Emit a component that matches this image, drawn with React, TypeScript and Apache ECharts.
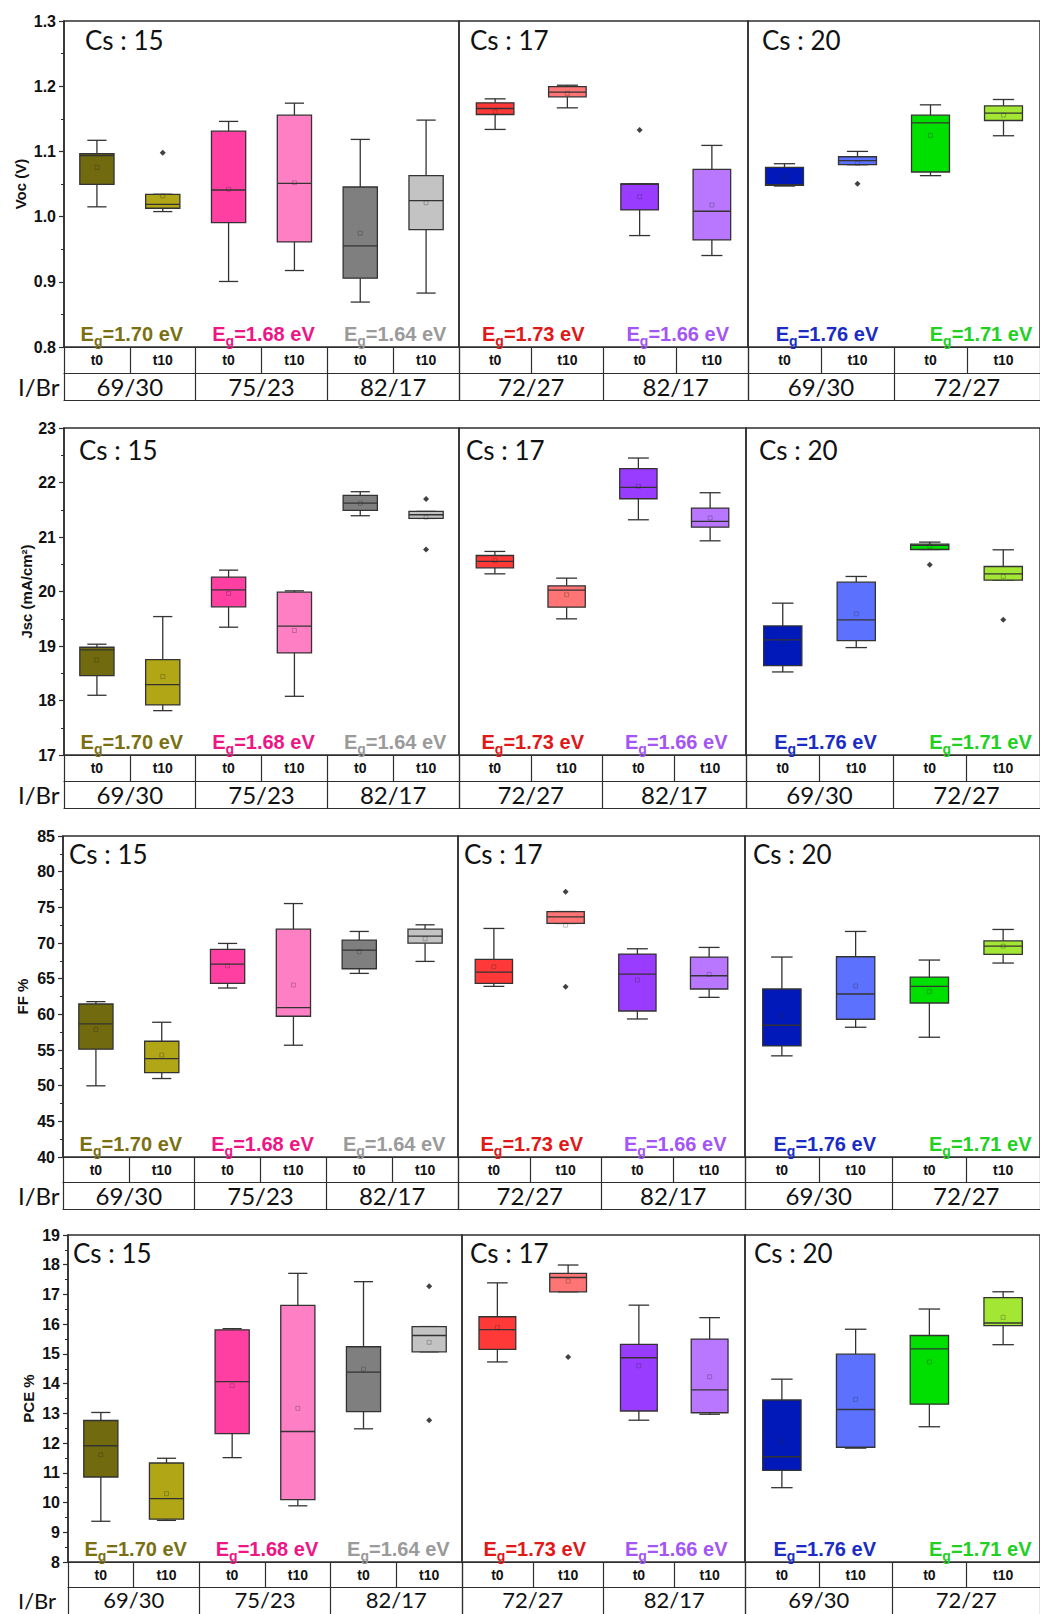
import React, { useEffect, useRef } from 'react';
import * as echarts from 'echarts';

// ---------- DATA ----------
const SECTION_CATEGORIES = [
  ['t0', 't10', 't0', 't10', 't0', 't10'],
  ['t0', 't10', 't0', 't10'],
  ['t0', 't10', 't0', 't10'],
];
const SECTION_SIZES = [6, 4, 4];
const IBR_LABELS = [['69/30', '75/23', '82/17'], ['72/27', '82/17'], ['69/30', '72/27']];
const CS_LABELS = ['Cs : 15', 'Cs : 17', 'Cs : 20'];
const EG_VALUES = ['1.70', '1.68', '1.64', '1.73', '1.66', '1.76', '1.71'];
const EG_COLORS = ['#7a7012', '#ee1585', '#9a9a9a', '#e01818', '#a455f5', '#1a2cc4', '#22d022'];
const BOX_COLORS = [
  '#716a0e', '#b0a616', '#ff40a2', '#ff7fc4', '#7f7f7f', '#c3c3c3', '#ff3838',
  '#ff7474', '#9a3cff', '#b977ff', '#0219b9', '#5c72ff', '#00e000', '#a4e634',
];

// box stats: [min, Q1, median, Q3, max]
const VOC_BOX = [
  [1.015, 1.0495, 1.0934, 1.0964, 1.117],
  [1.0077, 1.0128, 1.0189, 1.0342, 1.0342],
  [0.9005, 0.9908, 1.0408, 1.131, 1.146],
  [0.9173, 0.9612, 1.051, 1.1556, 1.174],
  [0.8689, 0.9056, 0.9551, 1.0454, 1.1184],
  [0.8827, 0.9801, 1.0245, 1.0628, 1.148],
  [1.1337, 1.1566, 1.1658, 1.1745, 1.1806],
  [1.1668, 1.1837, 1.1908, 1.1995, 1.2015],
  [0.9709, 1.0102, 1.05, 1.05, 1.05],
  [0.9403, 0.9643, 1.0082, 1.0724, 1.1092],
  [1.0469, 1.048, 1.049, 1.0755, 1.0811],
  [1.0796, 1.0796, 1.0857, 1.0918, 1.1],
  [1.0628, 1.0684, 1.1439, 1.1556, 1.1714],
  [1.124, 1.1474, 1.1587, 1.1699, 1.1796],
];
const VOC_MEAN = [1.0755, 1.0316, 1.042, 1.052, 0.9745, 1.0214, 1.1607, 1.189, 1.0306, 1.0179, 1.0597, 1.0816, 1.1245, 1.1556];
const VOC_OUTLIERS = [[1, 1.098], [8, 1.133], [11, 1.0505]];

const JSC_BOX = [
  [18.096, 18.457, 18.93, 18.977, 19.033],
  [17.814, 17.918, 18.292, 18.75, 19.54],
  [19.345, 19.718, 20.03, 20.263, 20.392],
  [18.077, 18.873, 19.363, 19.988, 20.012],
  [21.39, 21.488, 21.622, 21.763, 21.831],
  [21.341, 21.341, 21.408, 21.469, 21.469],
  [20.324, 20.435, 20.551, 20.661, 20.735],
  [19.498, 19.712, 20.024, 20.104, 20.245],
  [21.316, 21.702, 21.91, 22.253, 22.449],
  [20.93, 21.18, 21.286, 21.53, 21.812],
  [18.524, 18.641, 19.112, 19.369, 19.786],
  [18.971, 19.1, 19.48, 20.171, 20.276],
  [20.771, 20.771, 20.845, 20.869, 20.906],
  [20.208, 20.208, 20.324, 20.459, 20.765],
];
const JSC_MEAN = [18.74, 18.44, 19.963, 19.284, 21.62, 21.365, 20.57, 19.94, 21.93, 21.35, 19.09, 19.59, 20.83, 20.275];
const JSC_OUTLIERS = [[5, 21.696], [5, 20.771], [12, 20.49], [13, 19.48]];

const FF_BOX = [
  [49.98, 55.11, 58.65, 61.45, 61.78],
  [51.0, 51.84, 53.8, 56.23, 58.89],
  [63.69, 64.34, 67.05, 69.1, 69.94],
  [55.67, 59.73, 60.94, 71.94, 75.53],
  [65.74, 66.39, 69.0, 70.4, 71.62],
  [67.42, 69.98, 70.96, 71.94, 72.55],
  [63.92, 64.34, 65.93, 67.7, 72.04],
  [72.74, 72.74, 73.67, 74.41, 74.41],
  [59.35, 60.47, 65.65, 68.45, 69.19],
  [62.38, 63.55, 65.41, 68.03, 69.38],
  [54.18, 55.57, 58.47, 63.55, 68.03],
  [58.19, 59.31, 62.85, 68.07, 71.62],
  [56.79, 61.59, 63.92, 65.23, 67.61],
  [67.19, 68.4, 69.56, 70.31, 71.9],
];
const FF_MEAN = [57.9, 54.3, 66.8, 64.11, 68.77, 70.6, 66.67, 72.5, 64.8, 65.6, 59.77, 63.97, 63.18, 69.56];
const FF_OUTLIERS = [[7, 77.17], [7, 63.88]];

const PCE_BOX = [
  [9.37, 10.86, 11.91, 12.76, 13.03],
  [9.4, 9.44, 10.13, 11.33, 11.49],
  [11.51, 12.32, 14.07, 15.81, 15.85],
  [9.89, 10.1, 12.39, 16.63, 17.71],
  [12.48, 13.06, 14.39, 15.24, 17.43],
  [15.07, 15.07, 15.62, 15.92, 15.92],
  [14.73, 15.15, 15.82, 16.25, 17.39],
  [17.09, 17.09, 17.57, 17.71, 17.99],
  [12.77, 13.08, 14.87, 15.32, 16.64],
  [12.97, 13.02, 13.79, 15.5, 16.22],
  [10.5, 11.08, 11.54, 13.45, 14.15],
  [11.83, 11.86, 13.13, 14.99, 15.83],
  [12.55, 13.31, 15.17, 15.62, 16.51],
  [15.31, 15.95, 16.04, 16.89, 17.09],
];
const PCE_MEAN = [11.61, 10.3, 13.93, 13.17, 14.49, 15.39, 15.89, 17.45, 14.6, 14.23, 12.04, 13.47, 14.73, 16.23];
const PCE_OUTLIERS = [[5, 17.28], [5, 12.77], [7, 14.9]];

const PANELS = [
  { name: 'Voc (V)', min: 0.8, max: 1.3, interval: 0.1, decimals: 1, box: VOC_BOX, mean: VOC_MEAN, out: VOC_OUTLIERS },
  { name: 'Jsc (mA/cm²)', min: 17, max: 23, interval: 1, decimals: 0, box: JSC_BOX, mean: JSC_MEAN, out: JSC_OUTLIERS },
  { name: 'FF %', min: 40, max: 85, interval: 5, decimals: 0, box: FF_BOX, mean: FF_MEAN, out: FF_OUTLIERS },
  { name: 'PCE %', min: 8, max: 19, interval: 1, decimals: 0, box: PCE_BOX, mean: PCE_MEAN, out: PCE_OUTLIERS },
];

// ---------- LAYOUT ----------
const RIGHT = 1056;
const ROWS = [
  { top: 21, bottom: 347, left: 64, d1: 459, d2: 748, nameGap: 36, csDx: [21, 11, 14], csDy: 12, r1: 26, r2: 27, ibrFont: 24 },
  { top: 428, bottom: 755, left: 64, d1: 459, d2: 746, nameGap: 29, csDx: [15, 7, 13], csDy: 15, r1: 26, r2: 27, ibrFont: 24 },
  { top: 836, bottom: 1157, left: 63, d1: 458, d2: 745, nameGap: 33, csDx: [6, 6, 8], csDy: 11, r1: 25, r2: 27, ibrFont: 24 },
  { top: 1235, bottom: 1562, left: 68, d1: 462, d2: 745, nameGap: 32, csDx: [5, 8, 9], csDy: 11, r1: 25, r2: 27, ibrFont: 22 },
];

const ARIAL = 'Liberation Sans, Arial, sans-serif';
const CALIBRI = 'Lato, Carlito, sans-serif';
const LINE = '#2e2e2e';

function buildOption() {
  const grid: any[] = [];
  const xAxis: any[] = [];
  const yAxis: any[] = [];
  const series: any[] = [];
  const graphic: any[] = [];

  PANELS.forEach((panel, r) => {
    const L = ROWS[r];
    const bounds = [L.left, L.d1, L.d2, RIGHT];
    let offset = 0;
    for (let s = 0; s < 3; s++) {
      const g = grid.length;
      const secL = bounds[s];
      const secR = bounds[s + 1];
      const n = SECTION_SIZES[s];
      const cellW = (secR - secL) / n;
      grid.push({
        left: secL, top: L.top, width: secR - secL, height: L.bottom - L.top,
        show: true, borderColor: LINE, borderWidth: 1.5, backgroundColor: 'transparent',
      });
      const lineStyle = { color: LINE, width: 1.2 };
      xAxis.push({
        type: 'category', gridIndex: g, data: SECTION_CATEGORIES[s], position: 'bottom',
        axisLine: { show: true, lineStyle },
        axisTick: { show: true, length: L.r1, interval: 0, lineStyle },
        axisLabel: { interval: 0, margin: 6, fontSize: 14, fontWeight: 'bold', fontFamily: ARIAL, color: '#111' },
        splitLine: { show: false },
      });
      xAxis.push({
        type: 'category', gridIndex: g, data: IBR_LABELS[s], position: 'bottom', offset: L.r1,
        axisLine: { show: true, lineStyle },
        axisTick: { show: true, length: L.r2, interval: 0, lineStyle },
        axisLabel: {
          interval: 0, margin: 1, fontSize: L.ibrFont, lineHeight: L.ibrFont, fontFamily: CALIBRI, color: '#111',
        },
        splitLine: { show: false },
      });
      xAxis.push({
        type: 'category', gridIndex: g, data: [''], position: 'bottom', offset: L.r1 + L.r2,
        axisLine: { show: true, lineStyle },
        axisTick: { show: false }, axisLabel: { show: false }, splitLine: { show: false },
      });
      yAxis.push({
        type: 'value', gridIndex: g, min: panel.min, max: panel.max, interval: panel.interval,
        show: s === 0,
        axisLine: { show: true, lineStyle: { color: LINE, width: 1.5 } },
        axisTick: { show: true, inside: false, length: 5, lineStyle: { color: LINE, width: 1.2 } },
        minorTick: { show: true, splitNumber: 2, length: 3, lineStyle: { color: LINE, width: 1 } },
        axisLabel: {
          margin: 8, fontSize: 16, fontWeight: 'bold', fontFamily: ARIAL, color: '#111',
          formatter: (v: number) => v.toFixed(panel.decimals),
        },
        splitLine: { show: false },
        name: s === 0 ? panel.name : '',
        nameLocation: 'middle', nameGap: L.nameGap,
        nameTextStyle: { fontSize: 15, fontWeight: 'bold', fontFamily: ARIAL, color: '#111' },
      });

      const boxes: any[] = [];
      const means: any[] = [];
      const outs: any[] = [];
      for (let i = 0; i < n; i++) {
        const gi = offset + i;
        boxes.push([i, ...panel.box[gi], gi]);
        means.push([i, panel.mean[gi]]);
      }
      panel.out.forEach(([gi, v]) => {
        if (gi >= offset && gi < offset + n) outs.push([gi - offset, v]);
      });

      series.push({
        type: 'custom', xAxisIndex: g * 3, yAxisIndex: g, encode: { x: 0, y: [1, 2, 3, 4, 5] },
        data: boxes,
        renderItem: (_params: any, api: any) => {
          const idx = api.value(0);
          const pts = [1, 2, 3, 4, 5].map((d) => api.coord([idx, api.value(d)]));
          const [pMin, pQ1, pMed, pQ3, pMax] = pts;
          const band = api.size([1, 0])[0];
          const bw = band * 0.52;
          const half = bw / 2;
          const cap = bw * 0.28;
          const cx = pMed[0];
          const color = BOX_COLORS[api.value(6)];
          const st = { stroke: '#333', lineWidth: 1.3 };
          return {
            type: 'group',
            children: [
              { type: 'line', shape: { x1: cx, y1: pQ3[1], x2: cx, y2: pMax[1] }, style: st },
              { type: 'line', shape: { x1: cx - cap, y1: pMax[1], x2: cx + cap, y2: pMax[1] }, style: st },
              { type: 'line', shape: { x1: cx, y1: pQ1[1], x2: cx, y2: pMin[1] }, style: st },
              { type: 'line', shape: { x1: cx - cap, y1: pMin[1], x2: cx + cap, y2: pMin[1] }, style: st },
              {
                type: 'rect',
                shape: { x: cx - half, y: pQ3[1], width: bw, height: Math.max(pQ1[1] - pQ3[1], 1) },
                style: { fill: color, stroke: '#333', lineWidth: 1.3 },
              },
              { type: 'line', shape: { x1: cx - half, y1: pMed[1], x2: cx + half, y2: pMed[1] }, style: st },
            ],
          };
        },
        z: 2,
      });
      series.push({
        type: 'scatter', xAxisIndex: g * 3, yAxisIndex: g, data: means,
        symbol: 'rect', symbolSize: 4,
        itemStyle: { color: 'rgba(0,0,0,0)', borderColor: 'rgba(40,40,40,0.45)', borderWidth: 0.8 },
        z: 3,
      });
      series.push({
        type: 'scatter', xAxisIndex: g * 3, yAxisIndex: g, data: outs,
        symbol: 'diamond', symbolSize: 6, itemStyle: { color: '#111' }, z: 3,
      });

      // Cs label
      graphic.push({
        type: 'text', x: secL + L.csDx[s], y: L.top + L.csDy - 6,
        style: { text: CS_LABELS[s], fill: '#111', font: `26px ${CALIBRI}`, align: 'left', verticalAlign: 'top' },
      });
      // Eg labels
      for (let k = 0; k < n / 2; k++) {
        const pairIdx = offset / 2 + k;
        const col = EG_COLORS[pairIdx];
        graphic.push({
          type: 'text', x: secL + cellW * (2 * k + 1) + 2, y: L.bottom - 13,
          style: {
            text: `{e|E}{g|g}{e|=${EG_VALUES[pairIdx]} eV}`,
            align: 'center', verticalAlign: 'middle',
            rich: {
              e: { fill: col, fontSize: 20, fontWeight: 'bold', fontFamily: ARIAL, lineHeight: 27, verticalAlign: 'middle' },
              g: { fill: col, fontSize: 14, fontWeight: 'bold', fontFamily: ARIAL, lineHeight: 14, verticalAlign: 'bottom' },
            },
          },
          z: 10,
        });
      }
      offset += n;
    }
    graphic.push({
      type: 'text', x: 18, y: L.bottom + L.r1 + L.r2 / 2,
      style: { text: 'I/Br', fill: '#111', font: `${L.ibrFont}px ${CALIBRI}`, align: 'left', verticalAlign: 'middle' },
    });
  });

  return { animation: false, backgroundColor: '#fff', grid, xAxis, yAxis, series, graphic };
}

export default function App() {
  const ref = useRef<HTMLDivElement>(null);
  useEffect(() => {
    if (!ref.current) return;
    const chart = echarts.init(ref.current, undefined, { renderer: 'svg' });
    chart.setOption(buildOption() as any);
    return () => chart.dispose();
  }, []);
  return (
    <div
      ref={ref}
      style={{ position: 'absolute', left: 0, top: 0, width: 1040, height: 1614, background: '#fff' }}
    />
  );
}
